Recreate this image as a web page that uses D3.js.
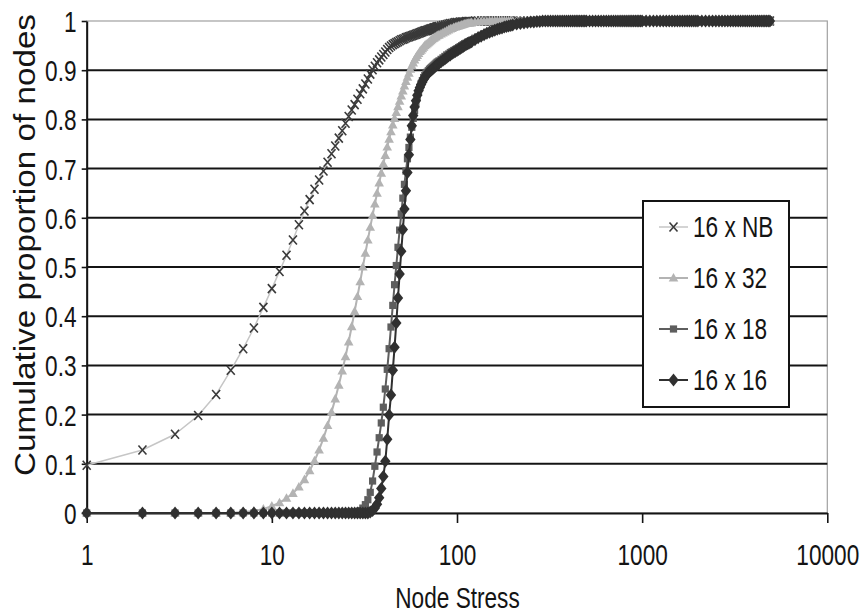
<!DOCTYPE html>
<html>
<head>
<meta charset="utf-8">
<script src="https://cdn.jsdelivr.net/npm/d3@7"></script>
<style>
  html, body { margin: 0; padding: 0; background: #fff; }
  svg { display: block; }
</style>
</head>
<body>
<svg id="chart" width="864" height="615"></svg>
<script>
// ---- Data -----------------------------------------------------------------
// Node stress values at which the cumulative proportions are plotted.
const stress = [
  1,2,3,4,5,6,7,8,9,10,11,12,13,14,15,16,17,18,19,20,
  21,22,23,24,25,26,27,28,29,30,31,32,33,34,35,36,37,38,39,40,
  41,42,43,44,45,46,47,48,49,50,51,52,53,54,55,56,57,58,59,60,
  61,62,63,64,65,66,67,68,69,70,71,72,73,74,75,76,77,78,79,80,
  82,84,86,88,90,92,94,96,98,100,102,104,106,108,110,112,114,116,118,120,
  125,130,135,140,145,150,155,160,165,170,175,180,185,190,195,200,
  210,220,230,240,250,260,270,280,290,300,310,320,330,340,350,360,370,380,390,400,
  410,420,430,440,450,460,470,480,490,500,
  520,540,560,580,600,620,640,660,680,700,720,740,760,780,800,820,840,860,880,900,920,940,960,980,1000,
  1050,1100,1150,1200,1250,1300,1350,1400,1450,1500,1550,1600,1650,1700,1750,1800,1850,1900,1950,2000,
  2100,2200,2300,2400,2500,2600,2700,2800,2900,3000,3100,3200,3300,3400,3500,3600,3700,3800,3900,4000,4100,4200,4300,4400,4500,4600,4700,4800,4900
];

// Cumulative proportion of nodes, one array per network.
const cumNB = [
  .097,.128,.160,.198,.241,.290,.334,.376,.418,.456,.491,.524,.555,.586,.614,.637,.658,.677,.695,.713,
  .730,.746,.762,.777,.792,.806,.819,.830,.841,.852,.862,.872,.882,.892,.901,.908,.915,.921,.927,.932,
  .937,.942,.946,.949,.952,.954,.956,.958,.960,.962,.963,.964,.966,.967,.968,.969,.970,.971,.972,.973,
  .974,.975,.976,.977,.978,.979,.980,.980,.981,.982,.983,.984,.984,.985,.986,.986,.987,.988,.988,.989,
  .990,.991,.992,.993,.994,.995,.995,.996,.997,.997,.997,.998,.998,.998,.998,.999,.999,.999,.999,.999,
  1,1,1,1,1,1,1,1,1,1,1,1,1,1,1,1,
  1,1,1,1,1,1,1,1,1,1,1,1,1,1,1,1,1,1,1,1,
  1,1,1,1,1,1,1,1,1,1,
  1,1,1,1,1,1,1,1,1,1,1,1,1,1,1,1,1,1,1,1,1,1,1,1,1,
  1,1,1,1,1,1,1,1,1,1,1,1,1,1,1,1,1,1,1,1,
  1,1,1,1,1,1,1,1,1,1,1,1,1,1,1,1,1,1,1,1,1,1,1,1,1,1,1,1,1
];
const cum32 = [
  0,0,0,0,0,0,.002,.004,.008,.014,.021,.030,.040,.053,.068,.086,.106,.128,.152,.178,
  .205,.232,.260,.289,.318,.348,.379,.410,.440,.470,.500,.528,.555,.581,.605,.628,.650,.671,.691,.710,
  .727,.744,.760,.775,.789,.802,.814,.826,.837,.848,.858,.868,.877,.886,.894,.902,.909,.915,.921,.926,
  .930,.934,.938,.941,.944,.947,.950,.952,.954,.956,.958,.960,.962,.964,.965,.967,.968,.970,.971,.972,
  .974,.976,.978,.980,.982,.984,.985,.987,.988,.989,.990,.991,.992,.993,.994,.995,.995,.996,.996,.997,
  .998,.998,.999,.999,.999,1,1,1,1,1,1,1,1,1,1,1,
  1,1,1,1,1,1,1,1,1,1,1,1,1,1,1,1,1,1,1,1,
  1,1,1,1,1,1,1,1,1,1,
  1,1,1,1,1,1,1,1,1,1,1,1,1,1,1,1,1,1,1,1,1,1,1,1,1,
  1,1,1,1,1,1,1,1,1,1,1,1,1,1,1,1,1,1,1,1,
  1,1,1,1,1,1,1,1,1,1,1,1,1,1,1,1,1,1,1,1,1,1,1,1,1,1,1,1,1
];
const cum18 = [
  0,0,0,0,0,0,0,0,0,0,0,0,0,0,0,0,0,0,0,0,
  0,0,0,0,0,0,0,0,.002,.005,.010,.017,.027,.042,.065,.095,.124,.153,.183,.215,
  .252,.292,.334,.378,.422,.464,.503,.540,.575,.608,.640,.668,.695,.720,.743,.764,.784,.802,.818,.832,
  .845,.856,.865,.873,.879,.885,.889,.893,.896,.899,.902,.904,.906,.908,.910,.912,.914,.916,.917,.919,
  .922,.925,.928,.931,.933,.936,.938,.940,.942,.944,.946,.948,.950,.952,.954,.955,.957,.958,.960,.961,
  .965,.968,.971,.974,.977,.979,.981,.983,.985,.986,.988,.989,.990,.991,.992,.993,
  .995,.996,.997,.998,.998,.999,.999,1,1,1,1,1,1,1,1,1,1,1,1,1,
  1,1,1,1,1,1,1,1,1,1,
  1,1,1,1,1,1,1,1,1,1,1,1,1,1,1,1,1,1,1,1,1,1,1,1,1,
  1,1,1,1,1,1,1,1,1,1,1,1,1,1,1,1,1,1,1,1,
  1,1,1,1,1,1,1,1,1,1,1,1,1,1,1,1,1,1,1,1,1,1,1,1,1,1,1,1,1
];
const cum16 = [
  0,0,0,0,0,0,0,0,0,0,0,0,0,0,0,0,0,0,0,0,
  0,0,0,0,0,0,0,0,0,0,0,0,0,.002,.005,.010,.018,.031,.050,.074,
  .105,.150,.199,.240,.290,.337,.386,.437,.486,.532,.576,.618,.655,.692,.728,.759,.787,.808,.825,.838,
  .849,.858,.865,.871,.876,.881,.885,.889,.892,.895,.897,.899,.901,.903,.905,.907,.909,.911,.912,.914,
  .917,.920,.923,.926,.929,.931,.934,.936,.938,.940,.942,.944,.946,.948,.950,.952,.954,.955,.957,.958,
  .962,.966,.969,.972,.975,.977,.979,.981,.983,.985,.986,.988,.989,.990,.991,.992,
  .994,.995,.996,.997,.998,.998,.999,.999,1,1,1,1,1,1,1,1,1,1,1,1,
  1,1,1,1,1,1,1,1,1,1,
  1,1,1,1,1,1,1,1,1,1,1,1,1,1,1,1,1,1,1,1,1,1,1,1,1,
  1,1,1,1,1,1,1,1,1,1,1,1,1,1,1,1,1,1,1,1,
  1,1,1,1,1,1,1,1,1,1,1,1,1,1,1,1,1,1,1,1,1,1,1,1,1,1,1,1,1
];

const seriesNames = ["16 x NB", "16 x 32", "16 x 18", "16 x 16"];
const xTicks = [1, 10, 100, 1000, 10000];
const xTickLabels = ["1", "10", "100", "1000", "10000"];
const yTicks = [0, 0.1, 0.2, 0.3, 0.4, 0.5, 0.6, 0.7, 0.8, 0.9, 1];
const yTickLabels = ["0", "0.1", "0.2", "0.3", "0.4", "0.5", "0.6", "0.7", "0.8", "0.9", "1"];
const xTitle = "Node Stress";
const yTitle = "Cumulative proportion of nodes";

// ---- Layout & style -------------------------------------------------------
const plot = { left: 86.7, right: 827.3, top: 21, bottom: 513 };
const FONT = '"Liberation Sans", Arial, Helvetica, sans-serif';
const INK = "#141414";
const SQUISH = 0.78;   // narrow lettering
const FS = 29;

const styles = [
  { line: "#c6c6c6", lw: 1.5, shape: "cross",    color: "#3a3a3a" },
  { line: "#b3b3b3", lw: 2,   shape: "triangle", color: "#b3b3b3" },
  { line: "#5e5e5e", lw: 2,   shape: "square",   color: "#5e5e5e" },
  { line: "#303030", lw: 2,   shape: "diamond",  color: "#303030" }
];
const shapes = {
  cross:    "M-4,-4.5L4,4.5M4,-4.5L-4,4.5",
  triangle: "M0,-5L4.8,3.6L-4.8,3.6Z",
  square:   "M-3.6,-3.6h7.2v7.2h-7.2Z",
  diamond:  "M0,-6.5L5.2,0L0,6.5L-5.2,0Z"
};
function styleMarker(sel, st) {
  if (st.shape === "cross") {
    sel.attr("fill", "none").attr("stroke", st.color).attr("stroke-width", 1.6);
  } else {
    sel.attr("fill", st.color).attr("stroke", "none");
  }
  return sel;
}

// ---- Scales ---------------------------------------------------------------
const x = d3.scaleLog().domain([1, 10000]).range([plot.left, plot.right]);
const y = d3.scaleLinear().domain([0, 1]).range([plot.bottom, plot.top]);

const svg = d3.select("#chart");

// Plot-area frame
svg.append("rect")
  .attr("x", plot.left).attr("y", plot.top)
  .attr("width", plot.right - plot.left).attr("height", plot.bottom - plot.top)
  .attr("fill", "none").attr("stroke", "#a0a0a0").attr("stroke-width", 1.2);

// Horizontal gridlines
svg.append("g").selectAll("line")
  .data(yTicks.filter(t => t > 0 && t < 1))
  .join("line")
  .attr("x1", plot.left).attr("x2", plot.right)
  .attr("y1", d => y(d)).attr("y2", d => y(d))
  .attr("stroke", INK).attr("stroke-width", 2);

// X axis
const gx = svg.append("g")
  .attr("transform", `translate(0,${plot.bottom})`)
  .call(d3.axisBottom(x).tickValues(xTicks).tickFormat((d, i) => xTickLabels[i]).tickSize(10).tickSizeOuter(0));
gx.attr("font-family", FONT).attr("font-size", FS);
gx.select(".domain").attr("stroke", INK).attr("stroke-width", 2);
gx.selectAll(".tick line").attr("stroke", INK).attr("stroke-width", 1.6);
gx.selectAll(".tick text")
  .attr("y", 0).attr("dy", 0)
  .attr("transform", `translate(0,52) scale(${SQUISH},1)`)
  .attr("fill", INK);

// Y axis
const gy = svg.append("g")
  .attr("transform", `translate(${plot.left},0)`)
  .call(d3.axisLeft(y).tickValues(yTicks).tickFormat((d, i) => yTickLabels[i]).tickSize(5).tickSizeOuter(0));
gy.attr("font-family", FONT).attr("font-size", FS);
gy.select(".domain").attr("stroke", INK).attr("stroke-width", 2);
gy.selectAll(".tick line").attr("stroke", INK).attr("stroke-width", 1.6);
gy.selectAll(".tick text")
  .attr("x", -13).attr("dy", "0.36em")
  .attr("transform", `scale(${SQUISH},1)`)
  .attr("fill", INK);

// Axis titles
svg.append("text")
  .attr("transform", `translate(457.5,608) scale(${SQUISH},1)`)
  .attr("text-anchor", "middle")
  .attr("font-family", FONT).attr("font-size", FS).attr("fill", INK)
  .text(xTitle);

svg.append("text")
  .attr("transform", "translate(35,245) rotate(-90)")
  .attr("text-anchor", "middle")
  .attr("font-family", FONT).attr("font-size", FS).attr("fill", INK)
  .attr("textLength", 462).attr("lengthAdjust", "spacingAndGlyphs")
  .text(yTitle);

// ---- Series ---------------------------------------------------------------
const allSeries = [cumNB, cum32, cum18, cum16];
const line = d3.line().x(d => x(d[0])).y(d => y(d[1]));

allSeries.forEach((vals, si) => {
  const st = styles[si];
  const pts = stress.map((s, i) => [s, vals[i]]);
  const g = svg.append("g").attr("class", "series");
  g.append("path")
    .attr("d", line(pts))
    .attr("fill", "none")
    .attr("stroke", st.line)
    .attr("stroke-width", st.lw)
    .attr("stroke-linejoin", "round");
  styleMarker(
    g.selectAll("path.mk").data(pts).join("path")
      .attr("class", "mk")
      .attr("d", shapes[st.shape])
      .attr("transform", d => `translate(${x(d[0])},${y(d[1])})`),
    st);
});

// ---- Legend ---------------------------------------------------------------
const leg = svg.append("g");
leg.append("rect")
  .attr("x", 643).attr("y", 201).attr("width", 146).attr("height", 206)
  .attr("fill", "#fff").attr("stroke", INK).attr("stroke-width", 2);

seriesNames.forEach((name, i) => {
  const st = styles[i];
  const cy = 227 + i * 51;
  leg.append("line")
    .attr("x1", 659).attr("x2", 688).attr("y1", cy).attr("y2", cy)
    .attr("stroke", st.line).attr("stroke-width", st.lw);
  styleMarker(
    leg.append("path").attr("d", shapes[st.shape]).attr("transform", `translate(673.5,${cy})`),
    st);
  leg.append("text")
    .attr("transform", `translate(693,${cy + 10}) scale(${SQUISH},1)`)
    .attr("font-family", FONT).attr("font-size", FS).attr("fill", INK)
    .text(name);
});
</script>
</body>
</html>
